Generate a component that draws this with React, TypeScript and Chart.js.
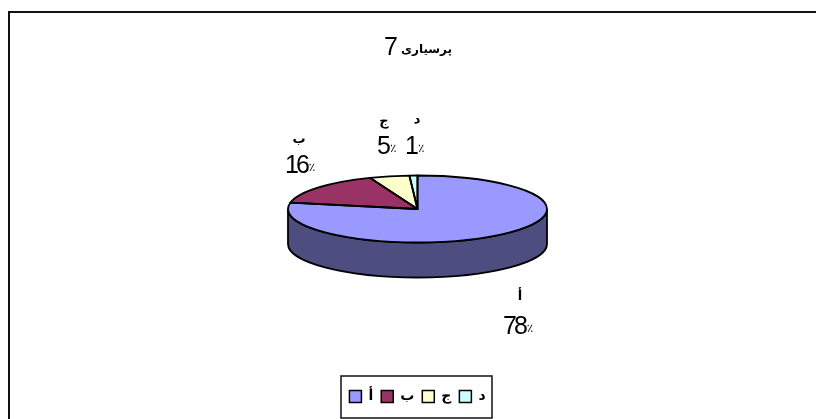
import React, { useEffect, useRef } from "react";
import { Chart, registerables } from "chart.js";

Chart.register(...registerables);

const categories = ["أ", "ب", "ج", "د"];
const seriesValues = [78, 16, 5, 1];
const sliceColors = ["#9999FF", "#993366", "#FFFFCC", "#CCFFFF"];
const sideColor = "#4D4D80";
const chartTitle = "پرسیاری";
const chartTitleNumber = "7";

const SQUASH = 33.5 / 129.5;
const DEPTH = 35;
const OUTLINE = 1.8;
// label anchors, relative to the pie centre
const labelAnchors = [
  { nameX: 102.5, name: 88, numX: 85.5, value: 118 },
  { nameX: -118.5, name: -69, numX: -132.5, value: -43 },
  { nameX: -33.5, name: -87, numX: -40.5, value: -62 },
  { nameX: -0.5, name: -89, numX: -12.5, value: -62 },
];

const piePlugin = {
  id: "pie3d",
  beforeDatasetsDraw(chart: any) {
    const ctx = chart.ctx;
    const arcs = chart.getDatasetMeta(0).data;
    const { x: cx, y: cy, outerRadius: r } = arcs[0].getProps(["x", "y", "outerRadius"], true);
    const ry = r * SQUASH;
    ctx.save();
    ctx.beginPath();
    ctx.ellipse(cx, cy, r, ry, 0, 0, Math.PI);
    ctx.lineTo(cx - r, cy + DEPTH);
    ctx.ellipse(cx, cy + DEPTH, r, ry, 0, Math.PI, 0, true);
    ctx.closePath();
    ctx.fillStyle = sideColor;
    ctx.fill();
    ctx.lineWidth = OUTLINE;
    ctx.strokeStyle = "#000";
    ctx.stroke();
    ctx.restore();
    ctx.save();
    ctx.translate(cx, cy);
    ctx.scale(1, SQUASH);
    ctx.translate(-cx, -cy);
  },
  afterDatasetsDraw(chart: any) {
    const ctx = chart.ctx;
    ctx.restore();
    const arcs = chart.getDatasetMeta(0).data;
    ctx.save();
    ctx.lineWidth = OUTLINE;
    ctx.strokeStyle = "#000";
    ctx.lineJoin = "round";
    arcs.forEach((a: any) => {
      const { x: cx, y: cy, outerRadius: r, startAngle, endAngle } = a.getProps(
        ["x", "y", "outerRadius", "startAngle", "endAngle"],
        true
      );
      ctx.beginPath();
      ctx.moveTo(cx, cy);
      ctx.ellipse(cx, cy, r, r * SQUASH, 0, startAngle, endAngle);
      ctx.closePath();
      ctx.stroke();
    });
    ctx.restore();
  },
  afterDraw(chart: any) {
    const ctx = chart.ctx;
    const arcs = chart.getDatasetMeta(0).data;
    const { x: cx, y: cy } = arcs[0].getProps(["x", "y"], true);
    ctx.save();
    // outer frame: only the left and top edges fall inside the picture
    ctx.strokeStyle = "#111";
    ctx.lineWidth = 2;
    ctx.beginPath();
    ctx.moveTo(9, 419);
    ctx.lineTo(9, 12);
    ctx.lineTo(816, 12);
    ctx.stroke();
    // legend frame
    ctx.lineWidth = 1.5;
    ctx.strokeRect(341, 376, 151, 42);
    ctx.fillStyle = "#000";
    ctx.textBaseline = "middle";
    // title
    ctx.textAlign = "left";
    ctx.direction = "rtl";
    ctx.font = "bold 12px 'DejaVu Sans'";
    ctx.fillText(chartTitle, 401, 50);
    ctx.direction = "ltr";
    ctx.font = "25px 'Liberation Sans'";
    ctx.fillText(chartTitleNumber, 384, 48);
    // data labels
    categories.forEach((name, i) => {
      const a = labelAnchors[i];
      ctx.textAlign = "center";
      ctx.font = "bold 13px 'DejaVu Sans'";
      ctx.fillText(name, cx + a.nameX, cy + a.name);
      ctx.font = "25px 'Liberation Sans'";
      ctx.letterSpacing = "-3px";
      const num = String(seriesValues[i]);
      const w = ctx.measureText(num).width;
      ctx.textAlign = "left";
      ctx.fillText(num, cx + a.numX, cy + a.value);
      ctx.letterSpacing = "0px";
      ctx.font = "12px 'DejaVu Sans'";
      ctx.fillText("٪", cx + a.numX + w + 2, cy + a.value + 2);
    });
    ctx.restore();
  },
};

export default function App() {
  const ref = useRef<HTMLCanvasElement>(null);
  useEffect(() => {
    const chart = new Chart(ref.current!, {
      type: "pie",
      data: {
        labels: categories,
        datasets: [
          {
            data: seriesValues,
            backgroundColor: sliceColors,
            borderWidth: 0,
            radius: 129.5,
          },
        ],
      },
      options: {
        responsive: false,
        animation: false,
        layout: { padding: { top: 36.5, left: 19, bottom: 5.5, right: 0 } },
        plugins: {
          tooltip: { enabled: false },
          title: { display: false },
          legend: {
            display: true,
            position: "bottom",
            labels: {
              boxWidth: 12,
              boxHeight: 12,
              padding: 8,
              color: "#000",
              font: { family: "'DejaVu Sans'", size: 14, weight: "bold" },
              generateLabels: () =>
                categories.map((t, i) => ({
                  text: t,
                  fillStyle: sliceColors[i],
                  strokeStyle: "#000",
                  lineWidth: 1.5,
                  index: i,
                })),
            },
          },
        },
      },
      plugins: [piePlugin],
    } as any);
    return () => chart.destroy();
  }, []);
  return (
    <canvas
      ref={ref}
      width={816}
      height={419}
      style={{ position: "absolute", left: 0, top: 0, display: "block" }}
    />
  );
}
